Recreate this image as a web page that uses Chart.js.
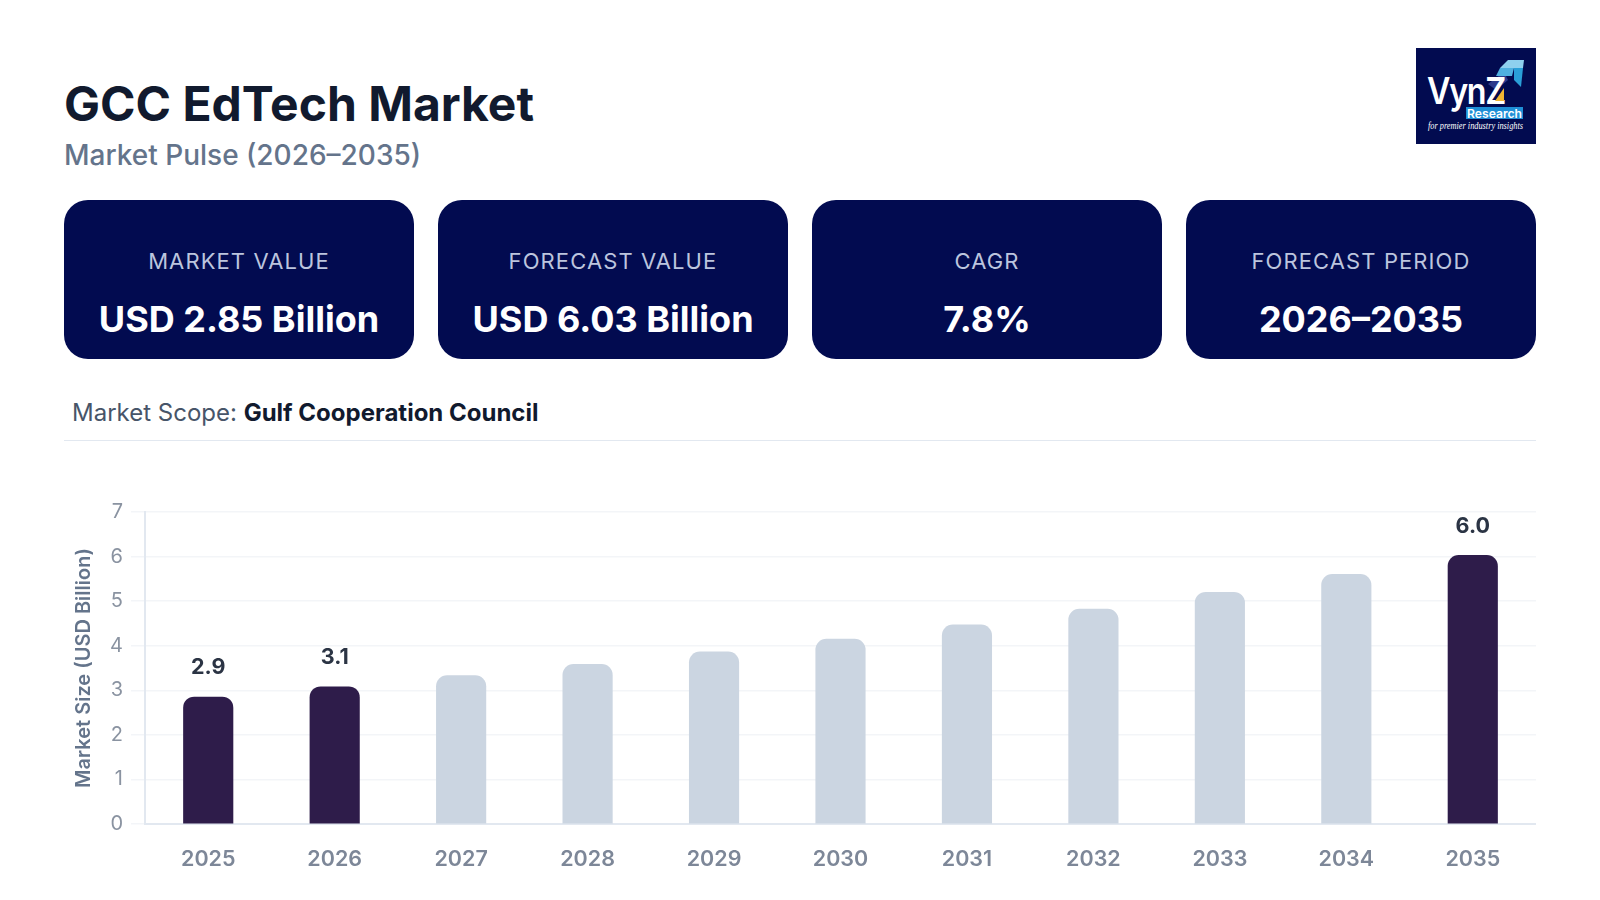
<!DOCTYPE html>
<html>
<head>
<meta charset="utf-8">
<title>GCC EdTech Market</title>
<script src="https://cdn.jsdelivr.net/npm/chart.js"></script>
<style>
  html, body { margin: 0; padding: 0; background: #fff; }
  body { width: 1600px; height: 900px; position: relative; overflow: hidden; font-family: Inter, "Noto Sans", sans-serif; }
  .abs { position: absolute; white-space: nowrap; line-height: 1; }
  #title { left: 64px; top: 80px; font-size: 48px; font-weight: 700; color: #111a2e; }
  #subtitle { left: 64px; top: 141px; font-size: 28px; font-weight: 500; color: #64748b; }
  .card { position: absolute; top: 200px; width: 350px; height: 159px; background: #020b50; border-radius: 24px; text-align: center; }
  .card .lbl { position: absolute; left: 0; right: 0; top: 50px; font-size: 22px; line-height: 1; letter-spacing: 1.1px; color: #bcc5de; }
  .card .val { position: absolute; left: 0; right: 0; top: 101px; font-size: 36px; line-height: 1; font-weight: 700; color: #fff; }
  #scope { left: 72px; top: 401px; font-size: 24px; color: #475569; }
  #scope b { color: #111a2e; font-weight: 700; }
  #rule { position: absolute; left: 64px; top: 440px; width: 1472px; height: 1px; background: #e2e8f0; }
  #logo { position: absolute; left: 1416px; top: 48px; width: 120px; height: 96px; background: #020b50; overflow: hidden; }
  #chartBox { position: absolute; left: 64px; top: 490px; width: 1472px; height: 400px; }
</style>
</head>
<body>
<div id="title" class="abs">GCC EdTech Market</div>
<div id="subtitle" class="abs">Market Pulse (2026–2035)</div>
<div id="cards"></div>
<div id="scope" class="abs">Market Scope: <b>Gulf Cooperation Council</b></div>
<div id="rule"></div>
<div id="logo">
  <svg width="120" height="96" viewBox="0 0 120 96" style="position:absolute;left:0;top:0">
    <polygon points="72,36 88,24 92,32 80,42" fill="#2b3a8c"/>
    <polygon points="92,12 108,12 107,20 84,20" fill="#8fd0ee"/>
    <polygon points="84,20 98,20 96,28 80,28" fill="#4fb0e0"/>
    <polygon points="98,20 107,20 105,39 98,32" fill="#2a9fd8"/>
    <text x="11" y="56" font-family="Inter, sans-serif" font-size="37" font-weight="600" letter-spacing="-1.5" fill="#fff" textLength="78" lengthAdjust="spacingAndGlyphs">VynZ</text>
    <polygon points="88,40 88,53 79,53" fill="#f2b632"/>
    <rect x="50" y="59" width="57" height="12" fill="#1f8fd6"/>
    <text x="51" y="69.5" font-family="Inter, sans-serif" font-size="12" font-weight="600" fill="#fff" textLength="55" lengthAdjust="spacingAndGlyphs">Research</text>
    <text x="12" y="81" font-family="'Liberation Serif', serif" font-size="10" font-style="italic" fill="#fff" textLength="95" lengthAdjust="spacingAndGlyphs">for premier industry insights</text>
  </svg>
</div>
<div id="chartBox"><canvas id="grafico"></canvas></div>

<script>
// ---------- Dados ----------
const years = ["2025", "2026", "2027", "2028", "2029", "2030", "2031", "2032", "2033", "2034", "2035"];
const marketSize = [2.85, 3.08, 3.33, 3.58, 3.86, 4.15, 4.47, 4.82, 5.2, 5.6, 6.03];
const valueLabels = ["2.9", "3.1", null, null, null, null, null, null, null, null, "6.0"];
const cardLabels = ["MARKET VALUE", "FORECAST VALUE", "CAGR", "FORECAST PERIOD"];
const cardValues = ["USD 2.85 Billion", "USD 6.03 Billion", "7.8%", "2026–2035"];

// ---------- Cards ----------
const host = document.getElementById("cards");
cardLabels.forEach((label, i) => {
  const c = document.createElement("div");
  c.className = "card";
  c.style.left = 64 + i * 374 + "px";
  c.innerHTML = `<div class="lbl">${label}</div><div class="val">${cardValues[i]}</div>`;
  host.appendChild(c);
});

// ---------- Rótulos sobre as barras ----------
const barLabels = {
  id: "barLabels",
  afterDatasetsDraw(chart) {
    const ctx = chart.ctx;
    const bars = chart.getDatasetMeta(0).data;
    ctx.save();
    ctx.font = "700 21.5px Inter";
    ctx.fillStyle = "#2b3444";
    ctx.textAlign = "center";
    ctx.textBaseline = "alphabetic";
    bars.forEach((bar, i) => {
      if (valueLabels[i]) ctx.fillText(valueLabels[i], bar.x, bar.y - 22.5);
    });
    ctx.restore();
  },
};

new Chart(document.getElementById("grafico"), {
  type: "bar",
  data: {
    labels: years,
    datasets: [{
      data: marketSize,
      barThickness: 49.5,
      borderRadius: { topLeft: 11, topRight: 11, bottomLeft: 0, bottomRight: 0 },
      borderSkipped: false,
      backgroundColor: years.map((y, i) => (valueLabels[i] ? "#2e1c4a" : "#cbd5e1")),
    }],
  },
  options: {
    responsive: true,
    maintainAspectRatio: false,
    animation: false,
    layout: { padding: { top: 22, right: 0, bottom: 0, left: 0 } },
    plugins: { legend: { display: false }, tooltip: { enabled: false } },
    scales: {
      x: {
        grid: { display: false },
        border: { color: "#e2e8f0", width: 2 },
        ticks: { color: "#7d8798", font: { family: "Inter", size: 21.5, weight: "600" }, padding: 15, maxRotation: 0 },
        afterFit: (s) => { s.height = 66; },
      },
      y: {
        min: 0,
        max: 7,
        grid: { color: "#f3f5f8", lineWidth: 1.5, tickLength: 14 },
        border: { color: "#e2e8f0", width: 2 },
        ticks: { stepSize: 1, color: "#8a93a1", font: { family: "Inter", size: 20 }, padding: 8 },
        title: {
          display: true,
          text: "Market Size (USD Billion)",
          color: "#64748b",
          font: { family: "Inter", size: 20, weight: "600" },
          padding: { top: 8, bottom: 0 },
        },
        afterFit: (s) => { s.width = 81; },
      },
    },
  },
  plugins: [barLabels],
});
</script>
</body>
</html>
